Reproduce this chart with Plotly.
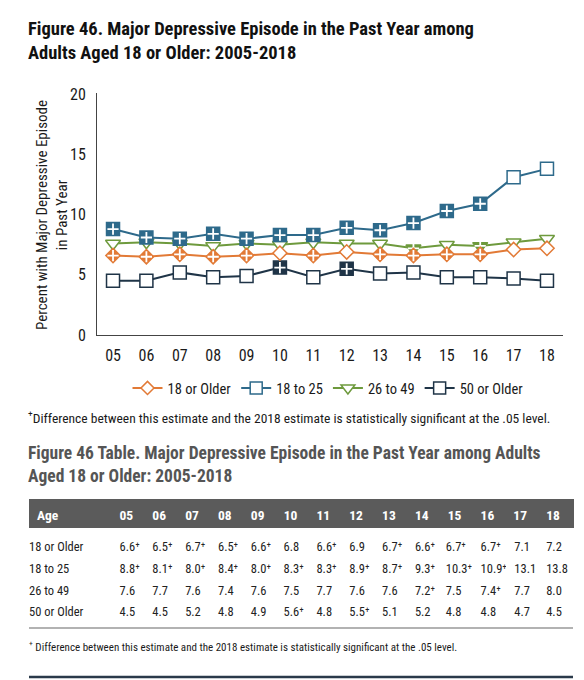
import plotly.graph_objects as go

# page has an 8px body margin; figure is sized so page = 584x680
W, H = 576, 672
OFF = 8


def px(x):
    return (x - OFF) / W


def py(y):
    return 1 - (y - OFF) / H


years = list(range(2005, 2019))
year_labels = ["05", "06", "07", "08", "09", "10", "11", "12", "13", "14", "15", "16", "17", "18"]
groups = ["18 or Older", "18 to 25", "26 to 49", "50 or Older"]

v_18plus = [6.6, 6.5, 6.7, 6.5, 6.6, 6.8, 6.6, 6.9, 6.7, 6.6, 6.7, 6.7, 7.1, 7.2]
sig_18plus = [1, 1, 1, 1, 1, 0, 1, 0, 1, 1, 1, 1, 0, 0]
v_18_25 = [8.8, 8.1, 8.0, 8.4, 8.0, 8.3, 8.3, 8.9, 8.7, 9.3, 10.3, 10.9, 13.1, 13.8]
sig_18_25 = [1, 1, 1, 1, 1, 1, 1, 1, 1, 1, 1, 1, 0, 0]
v_26_49 = [7.6, 7.7, 7.6, 7.4, 7.6, 7.5, 7.7, 7.6, 7.6, 7.2, 7.5, 7.4, 7.7, 8.0]
sig_26_49 = [0, 0, 0, 0, 0, 0, 0, 0, 0, 1, 0, 1, 0, 0]
v_50plus = [4.5, 4.5, 5.2, 4.8, 4.9, 5.6, 4.8, 5.5, 5.1, 5.2, 4.8, 4.8, 4.7, 4.5]
sig_50plus = [0, 0, 0, 0, 0, 1, 0, 1, 0, 0, 0, 0, 0, 0]

y_ticks = [0, 5, 10, 15, 20]

colors = {"18 or Older": "#E27A36", "18 to 25": "#2E6A8B",
          "26 to 49": "#6E9A3D", "50 or Older": "#1F3447"}
symbols = {"18 or Older": "diamond", "18 to 25": "square",
           "26 to 49": "triangle-down", "50 or Older": "square"}
msizes = {"18 or Older": 11, "18 to 25": 13, "26 to 49": 13, "50 or Older": 13}
series = {"18 or Older": (v_18plus, sig_18plus), "18 to 25": (v_18_25, sig_18_25),
          "26 to 49": (v_26_49, sig_26_49), "50 or Older": (v_50plus, sig_50plus)}

FONT = "Roboto Condensed, Roboto, Liberation Sans, sans-serif"

fig = go.Figure()

# legend-only entries (hollow markers), in legend order
for g in groups:
    fig.add_trace(go.Scatter(
        x=[None], y=[None], mode="lines+markers", name=g,
        line=dict(color=colors[g], width=2),
        marker=dict(symbol=symbols[g], size=msizes[g] - 1, color="white",
                    line=dict(color=colors[g], width=1.5)),
        showlegend=True, hoverinfo="skip"))

# drawing order: 50+, 26-49, 18+, 18-25
for g in ["50 or Older", "26 to 49", "18 or Older", "18 to 25"]:
    vals, sig = series[g]
    fills = [colors[g] if s else "white" for s in sig]
    fig.add_trace(go.Scatter(
        x=years, y=vals, mode="lines+markers", name=g, showlegend=False,
        line=dict(color=colors[g], width=2),
        marker=dict(symbol=symbols[g], size=msizes[g], color=fills,
                    line=dict(color=colors[g], width=1.5), opacity=1)))
    sx = [x for x, s in zip(years, sig) if s]
    sy = [v for v, s in zip(vals, sig) if s]
    fig.add_trace(go.Scatter(
        x=sx, y=sy, mode="markers", showlegend=False, hoverinfo="skip",
        marker=dict(symbol="cross-thin", size=8, color="white",
                    line=dict(color="white", width=1.8))))


# table
def fmt(v, s):
    return f"{v:.1f}\u207a" if s else f"{v:.1f}"


rows = []
for g in groups:
    vals, sig = series[g]
    rows.append([fmt(v, s) for v, s in zip(vals, sig)])
columns = [groups] + [[rows[r][c] for r in range(4)] for c in range(len(years))]
col_w = [83] + [33] * 13 + [35]
col_w_body = [91] + [33] * 9 + [31, 35, 34, 32, 35]

# header bar
fig.add_trace(go.Table(
    domain=dict(x=[px(29), px(573)], y=[py(560), py(499)]),
    columnwidth=col_w,
    header=dict(values=["<b>Age</b>"] + [f"<b>{l}</b>" for l in year_labels],
                fill_color="#5B5B5B", line_color="#5B5B5B",
                font=dict(family=FONT, size=13.5, color="white"),
                align="left", height=30),
    cells=dict(values=[[""] for _ in col_w], fill_color="white", line_color="white",
               height=2, font=dict(size=1))))

# body rows (with a thin blank spacer header)
fig.add_trace(go.Table(
    domain=dict(x=[px(21), px(573)], y=[py(627), py(528)]),
    columnwidth=col_w_body,
    header=dict(values=[""] * len(col_w_body), fill_color="white", line_color="white",
                height=6, font=dict(size=1, color="white")),
    cells=dict(values=columns, fill_color="white", line_color="white",
               font=dict(family=FONT, size=12.5, color="#222222"),
               align="left", height=21.7)))

fig.update_layout(
    width=W, height=H, margin=dict(l=0, r=0, t=0, b=0),
    paper_bgcolor="white", plot_bgcolor="white",
    font=dict(family=FONT, size=13, color="#1a1a1a"),
    showlegend=True,
    legend=dict(orientation="h", x=px(328), xanchor="center", y=py(388),
                yanchor="middle", font=dict(size=14.5, family=FONT, color="#1a1a1a"),
                bgcolor="rgba(0,0,0,0)"),
    xaxis=dict(domain=[px(97), px(563)], range=[2004.52, 2018.48],
               tickvals=years, ticktext=year_labels, showgrid=False, zeroline=False,
               showline=True, linecolor="#444444", linewidth=1, ticks="",
               tickfont=dict(size=16, family=FONT, color="#1a1a1a"),
               ticklabelstandoff=6, automargin=False, fixedrange=True),
    yaxis=dict(domain=[py(335), py(93)], range=[0, 20.1],
               tickvals=y_ticks, showgrid=False, zeroline=False,
               showline=True, linecolor="#444444", linewidth=1, ticks="",
               tickfont=dict(size=16, family=FONT, color="#1a1a1a"),
               ticklabelstandoff=7, automargin=False, fixedrange=True),
    annotations=[
        dict(text="<b>Figure 46. Major Depressive Episode in the Past Year among<br>Adults Aged 18 or Older: 2005-2018</b>",
             x=px(26), y=py(16), xref="paper", yref="paper", xanchor="left", yanchor="top",
             align="left", showarrow=False, font=dict(size=18.5, family=FONT, color="#111111")),
        dict(text="Percent with Major Depressive Episode<br>in Past Year", textangle=-90,
             x=px(52), y=py(215), xref="paper", yref="paper", xanchor="center", yanchor="middle",
             showarrow=False, font=dict(size=15, family=FONT, color="#1a1a1a")),
        dict(text="<sup>+</sup>Difference between this estimate and the 2018 estimate is statistically significant at the .05 level.",
             x=px(26), y=py(417), xref="paper", yref="paper", xanchor="left", yanchor="middle",
             showarrow=False, font=dict(size=13.5, family=FONT, color="#1a1a1a")),
        dict(text="<b>Figure 46 Table. Major Depressive Episode in the Past Year among Adults<br>Aged 18 or Older: 2005-2018</b>",
             x=px(26), y=py(441), xref="paper", yref="paper", xanchor="left", yanchor="top",
             align="left", showarrow=False, font=dict(size=17.5, family=FONT, color="#555555")),
        dict(text="<sup>+</sup> Difference between this estimate and the 2018 estimate is statistically significant at the .05 level.",
             x=px(27), y=py(646), xref="paper", yref="paper", xanchor="left", yanchor="middle",
             showarrow=False, font=dict(size=11, family=FONT, color="#1a1a1a")),
    ],
    shapes=[
        dict(type="line", xref="paper", yref="paper", x0=px(29), x1=px(573),
             y0=py(628), y1=py(628), line=dict(color="#999999", width=1.5)),
        dict(type="line", xref="paper", yref="paper", x0=px(29), x1=px(573),
             y0=py(677), y1=py(677), line=dict(color="#2A3A4A", width=2.5)),
    ],
)

fig.write_html("out.html")
